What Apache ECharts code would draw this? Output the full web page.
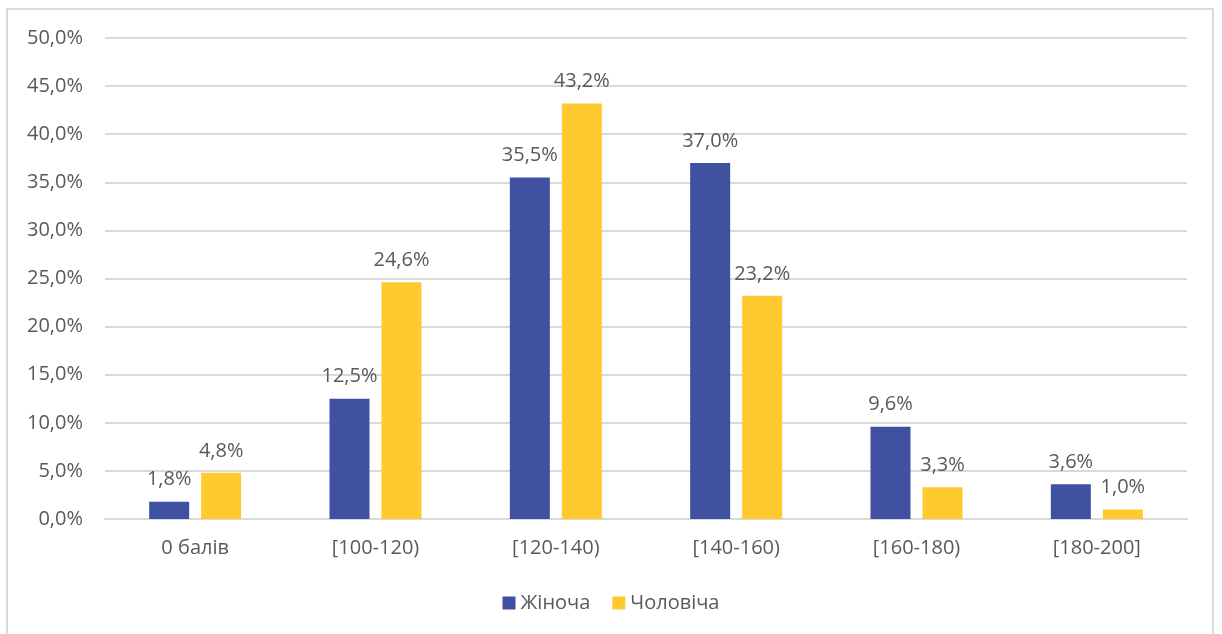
<!DOCTYPE html>
<html lang="uk">
<head>
    <meta charset="UTF-8">
    <title>Розподіл балів</title>
    <script src="https://cdn.jsdelivr.net/npm/echarts@6/dist/echarts.min.js"></script>
    <style type="text/css">
        html, body { margin: 0; padding: 0; background: #fff; }
        #pic { width: 1222px; height: 634px; }
    </style>
</head>
<body>
<div id="pic"></div>
<script type="text/javascript">
    // дані діаграми
    var categories = ['0 балів', '[100-120)', '[120-140)', '[140-160)', '[160-180)', '[180-200]'];
    var female = [1.8, 12.5, 35.5, 37.0, 9.6, 3.6];
    var male = [4.8, 24.6, 43.2, 23.2, 3.3, 1.0];
    var seriesNames = ['Жіноча', 'Чоловіча'];

    var fmt = function (v) {
        return v.toFixed(1).replace('.', ',') + '%';
    };

    var myChart = echarts.init(document.getElementById('pic'));
    var labelStyle = {
        show: true,
        position: 'top',
        distance: 12,
        color: '#595959',
        fontSize: 20,
        fontFamily: 'Open Sans',
        formatter: function (p) { return fmt(p.value); }
    };
    var option = {
        animation: false,
        textStyle: { fontFamily: 'Open Sans' },
        graphic: [{
            type: 'rect',
            shape: { x: 7, y: 9, width: 1206, height: 640 },
            style: { fill: 'none', stroke: '#d9d9d9', lineWidth: 2 },
            silent: true
        }],
        grid: { left: 105, right: 35, top: 38, bottom: 115, containLabel: false },
        legend: {
            top: 588,
            left: 'center',
            itemWidth: 13,
            itemHeight: 13,
            itemGap: 22,
            icon: 'rect',
            textStyle: { color: '#595959', fontSize: 20 },
            data: seriesNames
        },
        xAxis: {
            type: 'category',
            data: categories,
            axisTick: { show: false },
            axisLine: { lineStyle: { color: '#d9d9d9', width: 2 } },
            axisLabel: { color: '#595959', fontSize: 20, margin: 19 }
        },
        yAxis: {
            type: 'value',
            min: 0,
            max: 50,
            interval: 5,
            axisLine: { show: false },
            axisTick: { show: false },
            splitLine: { lineStyle: { color: '#d9d9d9', width: 2 } },
            axisLabel: {
                color: '#595959',
                fontSize: 20,
                margin: 22,
                formatter: function (v) { return fmt(v); }
            }
        },
        series: [{
            name: seriesNames[0],
            type: 'bar',
            data: female,
            barWidth: 40,
            barGap: '30%',
            itemStyle: { color: '#3f51a0' },
            label: labelStyle
        }, {
            name: seriesNames[1],
            type: 'bar',
            data: male,
            barWidth: 40,
            itemStyle: { color: '#ffca30' },
            label: labelStyle
        }]
    };
    myChart.setOption(option);
</script>
</body>
</html>
